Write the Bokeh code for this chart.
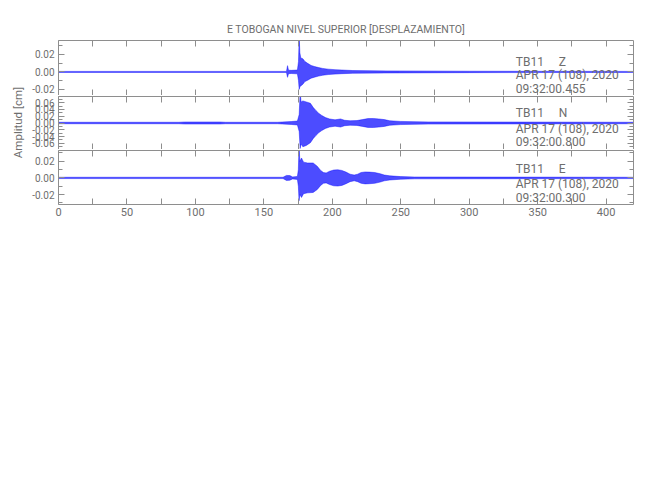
from bokeh.plotting import figure
from bokeh.layouts import column, row
from bokeh.models import Range1d, LinearAxis, FixedTicker, NumeralTickFormatter, Label
from bokeh.embed import file_html
from bokeh.resources import INLINE

# ---------------- data ----------------
TITLE = "E TOBOGAN NIVEL SUPERIOR [DESPLAZAMIENTO]"
Y_LABEL = "Amplitud [cm]"
X_TICKS = [0, 50, 100, 150, 200, 250, 300, 350, 400]
X_MINOR = [25, 75, 125, 175, 225, 275, 325, 375]

STATION = "TB11"
CHANNELS = ["Z", "N", "E"]
DATE_TEXT = "APR 17 (108), 2020"
START_TIMES = ["09:32:00.455", "09:32:00.800", "09:32:00.300"]

# envelope of each trace (time in s, upper / lower amplitude in cm)
z_t = [0, 166.5, 167.3, 168, 170, 174.5, 175.3, 175.8, 176.3, 177, 178.5, 180, 182,
       184.5, 187, 190, 193, 197, 202, 207, 215, 240, 300, 420]
z_hi = [0.0006, 0.0006, 0.0072, 0.0020, 0.0018, 0.0022, 0.012, 0.040, 0.022, 0.016,
        0.015, 0.012, 0.0098, 0.0075, 0.0062, 0.0050, 0.0040, 0.0032, 0.0026, 0.0022,
        0.0016, 0.0012, 0.0008, 0.0006]
z_lo = [-0.0006, -0.0006, -0.0062, -0.0020, -0.0018, -0.0022, -0.010, -0.020, -0.017,
        -0.016, -0.014, -0.011, -0.0095, -0.0072, -0.0060, -0.0048, -0.0038, -0.0030,
        -0.0025, -0.0020, -0.0016, -0.0012, -0.0008, -0.0006]

n_t = [0, 88, 92, 118, 122, 160, 170, 174.5, 175.8, 176.5, 177.2, 178.5, 181, 184, 186,
       188, 190, 192, 195, 198, 202, 206, 209, 213, 218, 222, 226, 230, 234, 238, 242,
       250, 270, 420]
n_hi = [0.0022, 0.0022, 0.0030, 0.0030, 0.0022, 0.0022, 0.0043, 0.0058, 0.025, 0.090,
        0.062, 0.065, 0.062, 0.058, 0.046, 0.037, 0.029, 0.023, 0.016, 0.012, 0.0093,
        0.012, 0.0080, 0.0066, 0.0072, 0.010, 0.013, 0.0133, 0.012, 0.010, 0.0066,
        0.0046, 0.0032, 0.0022]
n_lo = [-0.0022, -0.0022, -0.0030, -0.0030, -0.0022, -0.0022, -0.0043, -0.0058, -0.025,
        -0.075, -0.062, -0.070, -0.066, -0.058, -0.046, -0.037, -0.029, -0.023, -0.016,
        -0.012, -0.0093, -0.012, -0.0080, -0.0066, -0.0072, -0.010, -0.013, -0.0133,
        -0.012, -0.010, -0.0066, -0.0046, -0.0032, -0.0022]

e_t = [0, 164, 166.5, 169, 171, 174.5, 175.2, 175.7, 176.3, 177.5, 179, 182, 186, 189,
       191.5, 193.5, 195.5, 198, 201, 204, 207, 210, 213, 216, 218.5, 221, 224, 227, 231,
       235, 238, 242, 250, 260, 420]
e_hi = [0.0008, 0.0008, 0.0030, 0.0028, 0.0012, 0.0018, 0.010, 0.040, 0.020, 0.024,
        0.019, 0.018, 0.018, 0.014, 0.009, 0.0065, 0.0060, 0.0080, 0.0095, 0.0098, 0.0090,
        0.0070, 0.0045, 0.0035, 0.0045, 0.0065, 0.0072, 0.0070, 0.0065, 0.0050, 0.0035,
        0.0025, 0.0016, 0.0011, 0.0008]
e_lo = [-0.0008, -0.0008, -0.0030, -0.0028, -0.0012, -0.0018, -0.010, -0.0275, -0.020,
        -0.0235, -0.019, -0.018, -0.0175, -0.014, -0.009, -0.0065, -0.0060, -0.0080,
        -0.0095, -0.0098, -0.0090, -0.0070, -0.0045, -0.0035, -0.0045, -0.0065, -0.0072,
        -0.0070, -0.0065, -0.0050, -0.0035, -0.0025, -0.0016, -0.0011, -0.0008]

# y axis of each panel
Y_RANGES = [(-0.027, 0.036), (-0.078, 0.078), (-0.032, 0.033)]
Y_TICKS = [[-0.02, 0.0, 0.02],
           [-0.06, -0.04, -0.02, 0.0, 0.02, 0.04, 0.06],
           [-0.02, 0.0, 0.02]]
Y_MINOR = [[-0.01, 0.01, 0.03],
           [-0.07, -0.05, -0.03, -0.01, 0.01, 0.03, 0.05, 0.07],
           [-0.03, -0.01, 0.01, 0.03]]
# vertical placement (cm) of the three annotation lines in each panel
TEXT_Y = [[0.0113, -0.0036, -0.0190],
          [0.0280, -0.0190, -0.0560],
          [0.0113, -0.0073, -0.0242]]
TEXT_X = 334

# ---------------- styling ----------------
GREY = "#6e6e6e"
LINE_GREY = "#8e8e8e"
BLUE = "#0000ff"
FONT = "Roboto"

LABEL_W = 26
FRAME_W = 575
FRAME_HS = [55, 53, 54]
TOPS = [40, 1, 1]
LEFT_B = 32
RIGHT_B = 5
BOTTOM_B = 22

x_range = Range1d(0, 420)
traces = [(z_t, z_hi, z_lo), (n_t, n_hi, n_lo), (e_t, e_hi, e_lo)]
SP = "\u00a0" * 5

panels = []
for i in range(3):
    first, last = i == 0, i == 2
    bottom = BOTTOM_B if last else 0
    p = figure(frame_width=FRAME_W, frame_height=FRAME_HS[i],
               x_range=x_range, y_range=Range1d(*Y_RANGES[i]),
               output_backend="svg", toolbar_location=None,
               x_axis_location=None, y_axis_location=None,
               min_border_left=LEFT_B, min_border_right=RIGHT_B,
               min_border_top=TOPS[i], min_border_bottom=bottom)
    p.grid.grid_line_color = None
    p.outline_line_color = None
    p.background_fill_color = "white"
    p.border_fill_color = "white"

    xt = FixedTicker(ticks=X_TICKS, minor_ticks=X_MINOR)
    yt = FixedTicker(ticks=Y_TICKS[i], minor_ticks=Y_MINOR[i])

    for side in ("below", "above"):
        ax = LinearAxis(ticker=xt, axis_line_color=LINE_GREY,
                        major_tick_line_color=LINE_GREY, minor_tick_line_color=LINE_GREY,
                        major_tick_in=6, major_tick_out=0, minor_tick_in=6, minor_tick_out=0,
                        major_label_text_font=FONT)
        if side == "below" and last:
            ax.major_label_text_font_size = "11px"
            ax.major_label_text_color = GREY
            ax.major_label_standoff = 3
        else:
            ax.major_label_text_font_size = "1px"
            ax.major_label_text_color = None
            ax.major_label_standoff = 0
        p.add_layout(ax, side)

    for side in ("left", "right"):
        ax = LinearAxis(ticker=yt, formatter=NumeralTickFormatter(format="0.00"),
                        axis_line_color=LINE_GREY,
                        major_tick_line_color=LINE_GREY, minor_tick_line_color=LINE_GREY,
                        major_tick_in=6, major_tick_out=0, minor_tick_in=4, minor_tick_out=0,
                        major_label_text_font=FONT)
        if side == "left":
            ax.major_label_text_font_size = "10px"
            ax.major_label_text_color = GREY
            ax.major_label_standoff = 4
        else:
            ax.major_label_text_font_size = "1px"
            ax.major_label_text_color = None
            ax.major_label_standoff = 0
        p.add_layout(ax, side)

    t, hi, lo = traces[i]
    p.varea(x=t, y1=lo, y2=hi, fill_color=BLUE, fill_alpha=0.7)
    p.line(t, hi, line_color=BLUE, line_width=0.6, line_alpha=0.7)
    p.line(t, lo, line_color=BLUE, line_width=0.6, line_alpha=0.7)

    lines = [f"{STATION}{SP}{CHANNELS[i]}", DATE_TEXT, START_TIMES[i]]
    for txt, ty in zip(lines, TEXT_Y[i]):
        p.add_layout(Label(x=TEXT_X, y=ty, text=txt, text_font=FONT,
                           text_font_size="12px", text_color=GREY,
                           text_align="left", text_baseline="middle"))

    if first:
        p.title.text = TITLE
        p.title.align = "center"
        p.title.text_font = FONT
        p.title.text_font_size = "10.5px"
        p.title.text_font_style = "normal"
        p.title.text_color = GREY
    panels.append(p)

total_h = sum(TOPS) + sum(FRAME_HS) + BOTTOM_B

# narrow figure carrying the shared y-axis label
lab = figure(width=LABEL_W, height=total_h, x_range=(0, 1), y_range=(0, 1),
             output_backend="svg", toolbar_location=None,
             x_axis_location=None, y_axis_location=None, min_border=0,
             outline_line_color=None)
lab.grid.grid_line_color = None
lab.add_layout(Label(x=17 / LABEL_W, y=1 - 122 / total_h, text=Y_LABEL, angle=90,
                     angle_units="deg", text_font=FONT, text_font_size="11.5px",
                     text_color=GREY, text_align="center", text_baseline="middle"))

layout = row(lab, column(*panels, spacing=0), spacing=0)

open("out.html", "w").write(file_html(layout, INLINE))
